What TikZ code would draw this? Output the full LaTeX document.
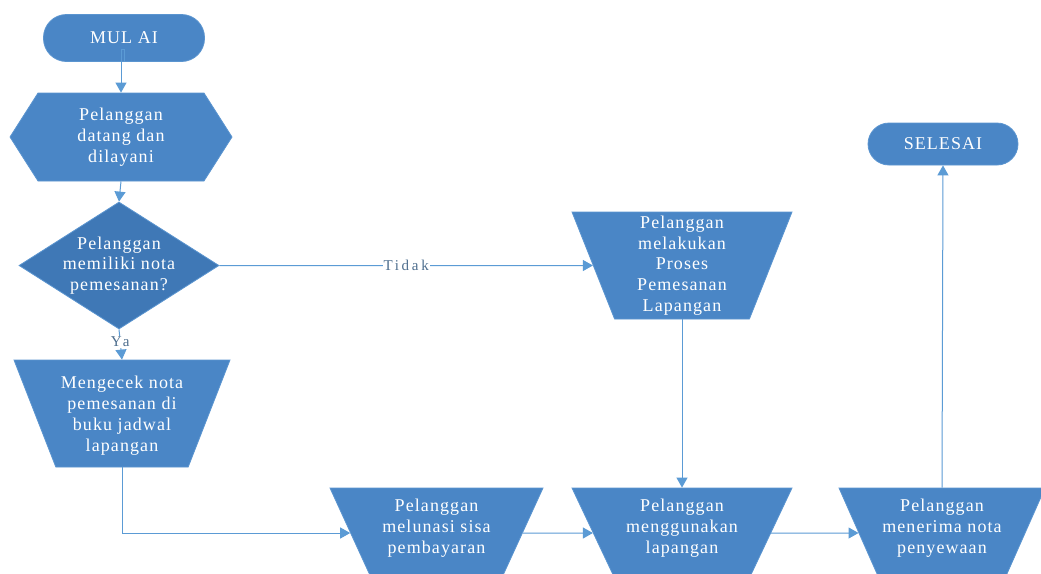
\documentclass[tikz,border=0pt]{standalone}
\usepackage{fontspec}
\setmainfont{Liberation Serif}
\usetikzlibrary{shapes.geometric,shapes.symbols,arrows.meta}
\definecolor{boxfill}{HTML}{4A86C6}
\definecolor{decfill}{HTML}{3F78B6}
\definecolor{boxline}{HTML}{5B95D0}
\definecolor{conn}{HTML}{5B9BD5}
\definecolor{labtext}{HTML}{4F6F8F}
\tikzset{
  txt/.style={text=white, align=center, font=\fontsize{18}{20.8}\selectfont\addfontfeatures{LetterSpace=6}},
  term/.style={draw=boxline, fill=boxfill, rounded corners=21pt, line width=0.8pt, inner sep=0pt},
  trap/.style={trapezium, trapezium stretches=true, shape border rotate=180,
    trapezium left angle=71, trapezium right angle=71, draw=boxline, fill=boxfill, line width=0.8pt, inner sep=0pt},
  conn/.style={draw=conn, line width=1pt, -{Triangle[width=11pt,length=10pt]}},
  lab/.style={fill=white, text=labtext, inner sep=1pt, font=\fontsize{15}{17}\selectfont\addfontfeatures{LetterSpace=18}}
}
\begin{document}
\begin{tikzpicture}[x=1pt,y=-1pt]
\useasboundingbox (0,0) rectangle (1041,573);
\fill[white] (0,0) rectangle (1041,573);

\node[term, minimum width=161pt, minimum height=47pt, rounded corners=23pt,
  label={[txt]center:MUL AI}] (mulai) at (124,38) {};
\node[signal, signal to=west and east, signal pointer angle=115, draw=boxline, fill=boxfill, line width=0.8pt,
  minimum width=222pt, minimum height=88pt, inner sep=0pt,
  label={[txt]center:Pelanggan\\datang dan\\dilayani}] (hex) at (121,137) {};
\node[diamond, draw=boxline, fill=decfill, line width=0.8pt, minimum width=200pt, minimum height=127pt, inner sep=0pt,
  label={[txt]center:Pelanggan\\memiliki nota\\pemesanan?}] (dec) at (119,265.5) {};
\node[trap, minimum width=216pt, minimum height=107pt,
  label={[txt, yshift=-2pt]center:Mengecek nota\\pemesanan di\\buku jadwal\\lapangan}] (cek) at (122,413.5) {\phantom{x}};
\node[trap, minimum width=220pt, minimum height=107pt,
  label={[txt]center:Pelanggan\\melakukan\\Proses\\Pemesanan\\Lapangan}] (pesan) at (682,265.5) {\phantom{x}};
\node[trap, minimum width=213pt, minimum height=90pt,
  label={[txt, yshift=5pt]center:Pelanggan\\melunasi sisa\\pembayaran}] (lunas) at (436.5,533) {\phantom{x}};
\node[trap, minimum width=220pt, minimum height=90pt,
  label={[txt, yshift=5pt]center:Pelanggan\\menggunakan\\lapangan}] (guna) at (682,533) {\phantom{x}};
\node[trap, minimum width=206pt, minimum height=90pt,
  label={[txt, yshift=5pt]center:Pelanggan\\menerima nota\\penyewaan}] (nota) at (942,533) {\phantom{x}};
\node[term, minimum width=150pt, minimum height=42pt,
  label={[txt]center:SELESAI}] (selesai) at (943,144) {};

\draw[conn] (mulai.south) -- ++(0,-12) -| (hex.north);
\draw[conn] (hex.south) -- (dec.north);
\draw[conn] (dec.south) -- node[lab, pos=0.42] {Ya} (cek.north);
\draw[conn] (dec.east) -- node[lab] {Tidak} (pesan.west);
\draw[conn] (cek.south) |- (lunas.west);
\draw[conn] (pesan.south) -- (guna.north);
\draw[conn] (lunas.east) -- (guna.west);
\draw[conn] (guna.east) -- (nota.west);
\draw[conn] (nota.north) -- (selesai.south);
\end{tikzpicture}
\end{document}
